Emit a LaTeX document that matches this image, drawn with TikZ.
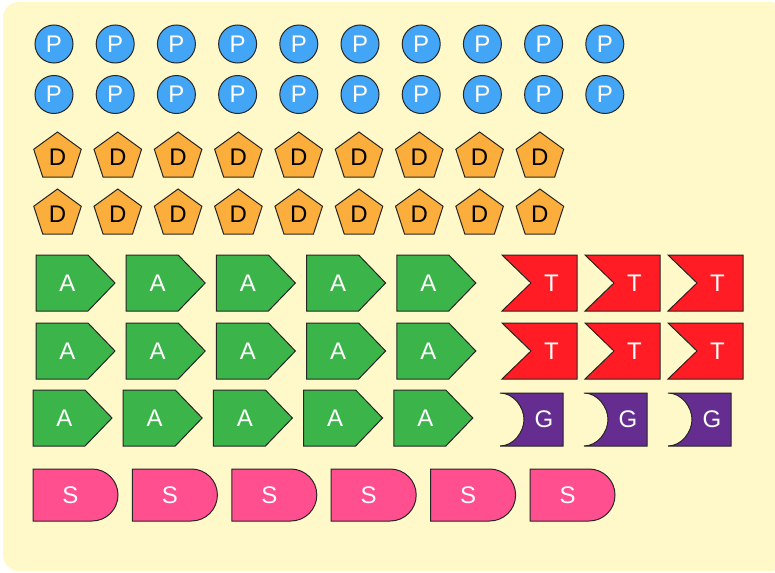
\documentclass[tikz,border=0pt]{standalone}
\usepackage{fontspec}
\setmainfont{Liberation Sans}
\usetikzlibrary{shapes.geometric}

\begin{document}
\begin{tikzpicture}[
    x=1pt, y=-1pt,
    every node/.style={font=\fontsize{24}{24}\selectfont, inner sep=0pt},
    outline/.style={draw=black!85, line width=1pt},
    pball/.style={circle, outline, fill=pblue, minimum size=38pt, text=white},
    dpent/.style={regular polygon, regular polygon sides=5, outline, fill=dorange, minimum size=50pt, text=black},
    aflag/.style={outline, fill=agreen},
    tflag/.style={outline, fill=tred},
    gflag/.style={outline, fill=gpurple},
    sflag/.style={outline, fill=spink}
]

% Define colors
\definecolor{bgyellow}{RGB}{255,248,201}
\definecolor{pblue}{RGB}{66,165,245}
\definecolor{dorange}{RGB}{251,174,59}
\definecolor{agreen}{RGB}{59,181,74}
\definecolor{tred}{RGB}{255,28,36}
\definecolor{gpurple}{RGB}{102,45,145}
\definecolor{spink}{RGB}{255,79,143}

% Page and background panel
\useasboundingbox (0,0) rectangle (775,572);
\clip (0,0) rectangle (775,572);
\fill[bgyellow, rounded corners=16pt] (3,2) rectangle (786,571);

% P circles (two rows)
\foreach \r/\y in {1/44, 2/94.5} {
    \foreach \c in {0,...,9} {
        \node[pball] (p-\r-\c) at (54+61.2*\c, \y) {P};
    }
}

% D pentagons (two rows)
\foreach \r/\y in {1/157, 2/214} {
    \foreach \c in {0,...,8} {
        \node[dpent] (d-\r-\c) at (57.5+60.3*\c, \y) {D};
    }
}

% A arrows (three rows)
\foreach \r/\x/\y in {1/36/255, 2/36/323, 3/33/390} {
    \foreach \c in {0,...,4} {
        \draw[aflag] (\x+90.2*\c, \y) -- ++(52,0) -- ++(27,28) -- ++(-27,28) -- ++(-52,0) -- cycle;
        \node[text=white] (a-\r-\c) at (\x+90.2*\c+31.5, \y+28) {A};
    }
}

% T tails (two rows)
\foreach \r/\y in {1/255, 2/323} {
    \foreach \c in {0,1,2} {
        \draw[tflag] (502+83*\c, \y) -- ++(75,0) -- ++(0,56) -- ++(-75,0) -- ++(29,-28) -- cycle;
        \node[text=white] (t-\r-\c) at (502+83*\c+49.5, \y+28) {T};
    }
}

% G hollows
\foreach \c in {0,1,2} {
    \pgfmathsetmacro{\gx}{500+84*\c}
    \draw[gflag] (\gx,393) -- (\gx+63,393) -- (\gx+63,446) -- (\gx,446)
        .. controls (\gx+13.5,446) and (\gx+24,432) .. (\gx+24,419.5)
        .. controls (\gx+24,407) and (\gx+13.5,393) .. (\gx,393) -- cycle;
    \node[text=white] (g-\c) at (\gx+44, 419.5) {G};
}

% S half-rounds
\foreach \c in {0,...,5} {
    \pgfmathsetmacro{\sx}{33+99.4*\c}
    \draw[sflag] (\sx,469) -- (\sx+59,469)
        .. controls (\sx+73.4,469) and (\sx+85,480.6) .. (\sx+85,495)
        .. controls (\sx+85,509.4) and (\sx+73.4,521) .. (\sx+59,521) -- (\sx,521) -- cycle;
    \node[text=white] (s-\c) at (\sx+37.5, 495) {S};
}

\end{tikzpicture}
\end{document}
